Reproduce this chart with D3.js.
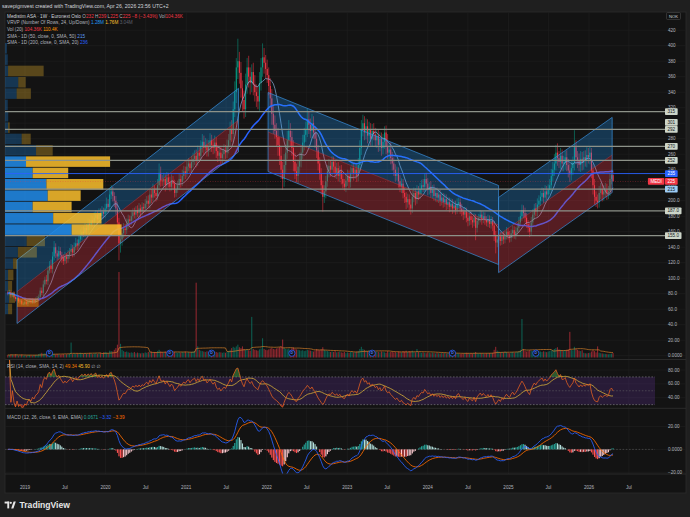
<!DOCTYPE html>
<html>
<head>
<meta charset="utf-8">
<script src="https://cdn.jsdelivr.net/npm/d3@7"></script>
<style>
  html, body { margin: 0; padding: 0; background: #1f1f1f; }
  svg { display: block; font-family: "Liberation Sans", "DejaVu Sans", Arial, sans-serif; }
  text { white-space: pre; }
</style>
</head>
<body>
<svg id="chart" width="690" height="517"></svg>
<script>
// ---- DATA: Medistim ASA, weekly candles (NOK), first week starts 2018-10-15 ----
const firstWeek = "2018-10-15";
const firstOpen = 82;
const closes = [
  80, 82, 78, 80, 76, 73, 75, 70, 71, 67,
  67, 69, 67, 70, 71, 69, 72, 70, 73, 74,
  76, 84, 81, 92, 98, 96, 110, 116, 112, 128,
  140, 132, 128, 135, 130, 126, 122, 128, 125, 130,
  134, 138, 133, 140, 145, 142, 150, 155, 160, 158,
  165, 162, 170, 168, 175, 172, 178, 182, 176, 184,
  180, 186, 183, 190, 196, 192, 208, 212, 206, 200,
  190, 172, 145, 150, 158, 164, 162, 170, 176, 174,
  180, 185, 182, 188, 184, 190, 186, 192, 190, 196,
  200, 196, 208, 204, 214, 210, 206, 220, 236, 226,
  225, 228, 220, 230, 224, 218, 226, 222, 210, 215,
  220, 228, 224, 232, 238, 235, 244, 248, 242, 250,
  254, 258, 252, 262, 258, 270, 276, 268, 272, 265,
  270, 278, 272, 268, 275, 264, 258, 262, 255, 260,
  265, 262, 270, 278, 292, 286, 318, 340, 372, 380,
  365, 345, 330, 318, 350, 372, 360, 352, 366, 350,
  340, 335, 328, 352, 372, 385, 378, 370, 362, 348,
  332, 312, 298, 290, 282, 272, 258, 240, 228, 246,
  262, 278, 290, 282, 268, 250, 238, 232, 244, 252,
  262, 275, 285, 292, 305, 298, 290, 300, 288, 280,
  265, 248, 235, 220, 205, 212, 225, 238, 245, 240,
  250, 244, 236, 242, 232, 238, 228, 222, 218, 226,
  232, 224, 236, 242, 235, 240, 232, 246, 268, 292,
  300, 288, 296, 284, 292, 280, 290, 286, 278, 284,
  272, 280, 268, 276, 288, 270, 262, 266, 255, 248,
  240, 232, 236, 225, 218, 222, 210, 205, 198, 202,
  195, 190, 205, 210, 202, 212, 208, 215, 220, 218,
  228, 222, 215, 218, 210, 214, 206, 210, 204, 208,
  200, 204, 198, 202, 195, 198, 192, 196, 190, 194,
  188, 196, 198, 190, 186, 182, 186, 178, 174, 180,
  175, 172, 178, 165, 174, 178, 182, 176, 180, 175,
  172, 176, 170, 174, 168, 156, 146, 150, 154, 148,
  154, 150, 156, 160, 155, 152, 158, 162, 156, 160,
  165, 172, 180, 188, 184, 178, 170, 165, 160, 172,
  182, 190, 186, 195, 200, 205, 210, 204, 212, 208,
  214, 220, 232, 240, 248, 262, 255, 250, 258, 248,
  249, 256, 246, 239, 234, 242, 249, 269, 256, 252,
  246, 254, 249, 256, 252, 259, 256, 262, 239, 220,
  205, 200, 198, 210, 215, 208, 212, 214, 210, 212,
  228, 233, 225
];
// wick length above / below the candle body (NOK)
const wickUp = [
  2,3,2,2,3,2,2,3,2,2, 2,2,3,2,2,3,2,2,2,3, 3,4,4,5,4,6,5,6,8,6, 8,5,4,6,5,4,5,6,4,6,
  5,6,5,6,7,5,6,8,6,7, 6,5,7,6,6,5,7,6,5,6, 6,7,5,6,8,6,8,8,6,5, 6,8,6,10,8,7,6,7,6,5,
  6,5,6,5,6,7,5,6,5,6, 6,7,6,7,8,6,7,8,12,8, 7,8,6,7,6,7,8,6,5,7, 6,7,6,8,7,6,8,7,6,8,
  8,7,8,9,7,8,10,8,9,7, 8,9,7,8,9,7,8,7,8,7, 8,7,9,8,10,12,10,14,12,29, 12,14,10,12,14,12,15,12,10,12,
  12,10,12,14,12,18,12,10,12,10, 10,12,10,12,10,12,10,12,10,14, 10,12,14,10,8,10,12,10,8,10, 8,10,9,10,14,10,8,12,9,8,
  8,7,8,7,6,8,7,8,9,7, 8,7,8,7,8,7,8,7,6,8, 8,7,8,9,7,8,7,9,10,12, 11,9,10,9,10,8,9,10,8,9,
  8,9,8,10,8,9,16,8,9,8, 8,7,8,7,8,7,6,7,6,7, 6,7,8,7,6,8,7,8,7,8, 7,8,7,6,7,6,7,6,7,6,
  6,7,6,7,6,7,6,7,6,6, 6,7,6,5,6,5,6,5,6,5, 6,5,6,5,6,5,6,5,6,5, 5,6,5,6,5,6,5,6,5,6,
  5,6,5,6,5,6,5,6,5,6, 6,7,6,7,6,7,6,5,6,7, 7,6,7,8,7,8,7,6,8,7, 7,8,9,10,12,10,12,9,10,8,
  9,8,9,8,9,10,8,22,9,8, 9,10,9,8,9,10,9,8,6,8, 8,7,8,9,8,7,8,9,8,7, 8,7,6
];
const wickDn = [
  2,2,3,2,2,3,2,2,3,2, 2,2,2,3,2,2,2,3,2,2, 2,3,3,4,3,4,5,4,5,6, 5,6,5,4,5,6,5,4,6,5,
  5,4,6,5,4,6,5,4,6,5, 5,6,5,6,5,6,5,6,7,5, 6,5,6,5,6,7,5,6,7,8, 8,10,22,12,8,6,7,5,6,7,
  5,6,5,6,5,6,7,5,6,5, 6,5,6,7,5,6,7,5,6,8, 6,7,8,6,7,6,5,7,6,5, 5,6,7,5,6,7,5,6,7,6,
  7,8,9,7,8,6,8,9,7,8, 8,7,9,8,7,9,8,7,8,9, 7,8,7,9,8,10,12,10,14,15, 14,12,15,12,10,12,14,15,12,14,
  12,14,10,12,10,12,14,12,10,12, 12,14,12,10,12,14,12,12,14,10, 10,8,10,12,10,12,10,8,10,9, 9,8,10,9,10,12,9,10,8,12,
  10,9,8,12,19,8,9,7,8,9, 7,8,7,8,7,8,7,6,5,7, 7,8,7,8,9,7,8,7,8,9, 9,10,9,10,8,9,10,8,9,10,
  9,8,10,8,9,10,8,9,8,9, 8,7,6,8,7,8,7,8,9,7, 8,8,6,7,8,6,7,6,8,7, 6,7,8,7,6,7,6,7,6,7,
  7,6,7,6,7,6,7,6,7,6, 6,5,6,7,6,7,5,6,7,6, 6,7,5,16,6,5,6,7,5,6, 5,6,5,6,7,8,14,6,5,6,
  5,6,5,6,5,6,5,6,5,6, 5,6,5,6,7,6,5,6,7,5, 6,7,6,7,6,7,6,7,6,7, 7,6,8,7,8,9,10,8,9,10,
  10,9,8,9,10,8,9,10,9,10, 8,9,10,9,8,9,8,9,10,12, 10,8,8,7,8,9,8,7,9,8, 6,7,0
];
// weekly volume (thousand shares)
const volumes = [
  60,55,70,65,50,75,60,45,55,70, 40,50,45,55,60,50,45,55,60,50, 80,95,110,90,100,85,120,95,110,90,
  85,70,80,75,65,70,80,60,75,70, 90,350,80,95,85,100,90,110,95,85, 100,90,85,110,95,80,90,100,85,95,
  110,95,120,130,115,100,160,150,140,180, 220,300,2000,320,180,150,130,140,120,110,
  120,110,130,100,115,105,95,110,100,120, 110,130,125,140,115,130,120,150,180,140,
  130,120,140,110,125,160,115,105,130,120, 110,125,115,130,120,140,110,125,115,130,
  140,150,1750,260,180,160,150,140,130,145, 130,180,150,120,140,130,115,125,120,110,
  120,110,130,150,180,220,250,230,260,300, 240,220,260,200,180,190,170,160,950,200,
  180,170,160,190,210,450,200,180,170,190, 210,230,200,190,210,220,240,260,420,230,
  200,190,210,180,220,240,200,190,180,170, 160,170,150,160,180,170,160,150,140,160,
  200,180,170,190,240,180,160,150,140,130, 140,130,150,120,130,140,120,110,130,100,
  120,110,130,140,120,130,140,150,200,250, 200,180,160,150,170,160,140,150,130,140,
  130,120,140,130,120,110,150,120,130,140, 120,130,110,140,130,120,150,140,160,130,
  150,140,160,130,120,200,130,120,110,120, 110,100,120,110,100,115,105,95,110,100,
  95,105,100,110,95,100,90,105,95,100, 90,100,95,85,90,95,100,110,105,95,
  100,95,110,130,100,95,105,100,95,90, 100,95,105,100,110,180,250,160,140,120,
  130,120,140,125,110,100,120,130,115,125, 130,150,180,900,200,160,140,150,170,160,
  150,140,130,160,150,140,130,145,135,125, 140,150,170,180,200,220,240,190,180,170,
  160,170,180,190,600,180,170,250,200,180, 160,150,170,110,100,95,105,110,140,180,
  150,120,260,110,100,95,90,85,80,75, 85,90,104
];

const dividendDates = ["2019-04-22", "2020-10-19", "2021-04-26", "2022-04-25", "2023-04-24", "2024-04-22", "2025-05-05"];

// Visible-range volume profile, 24 rows from vpHigh down to vpLow (thousand shares)
const vpHigh = 404, vpLow = 53;
const vpUp   = [60, 85, 95, 410, 360, 85, 100, 95, 515, 960, 650, 855, 1280, 1320, 855, 1490, 2060, 670, 400, 250, 95, 95, 125, 95];
const vpDown = [0, 0, 1100, 230, 440, 0, 0, 50, 280, 515, 2600, 1100, 1760, 1020, 1205, 1495, 1545, 565, 585, 125, 165, 125, 185, 125];
const vpValueArea = [10, 16];

// Regression trend channels: start/end date, midline price at start/end, half width
const channelStart = ["2018-11-26", "2022-01-07", "2024-11-17"];
const channelEnd   = ["2021-08-26", "2024-11-17", "2026-04-16"];
const channelMidA  = [82.6, 288.6, 155.7];
const channelMidB  = [304, 168.6, 259];
const channelHalf  = [41, 51, 48.5];

// consolidation box (early 2019)
const boxDates = ["2018-11-26", "2019-03-04"];
const boxPrices = [63, 74];

// Horizontal levels
const grayLevels = [315, 292, 270, 252, 215, 187, 155];
const blueLevel = 235;
const lastPrice = 225;
const tagValues = [315, 301, 292, 270, 252, 187, 155];
const tagTexts  = ["315", "301", "292", "270", "252", "187.0", "155.0"];

// Axes
const priceTicks = [420, 400, 380, 360, 340, 320, 300, 280, 260, 240, 220, 200, 180, 160, 140, 120, 100, 80, 60, 40, 20, 0];
const priceTickLabels = ["420", "400", "380", "360", "340", "320", "300", "280", "260", "240", "220", "200.0", "180.0", "160.0", "140.0", "120.0", "100.0", "80.0", "60.0", "40.0", "20.00", "0.0000"];
const rsiTicks = [80, 60, 40];
const rsiTickLabels = ["80.00", "60.00", "40.00"];
const macdTicks = [20, 0, -20];
const macdTickLabels = ["20.00", "0.0000", "\u221220.00"];
const timeTickDates = ["2019-01-01", "2019-07-01", "2020-01-01", "2020-07-01", "2021-01-01", "2021-07-01", "2022-01-01", "2022-07-01",
                       "2023-01-01", "2023-07-01", "2024-01-01", "2024-07-01", "2025-01-01", "2025-07-01", "2026-01-01", "2026-07-01"];
const timeTickLabels = ["2019", "Jul", "2020", "Jul", "2021", "Jul", "2022", "Jul", "2023", "Jul", "2024", "Jul", "2025", "Jul", "2026", "Jul"];

// ---- SETUP ----
const svg = d3.select("#chart");
const parse = d3.utcParse("%Y-%m-%d");
const frame = {x0: 5, x1: 686, y0: 12, y1: 493};
const mainPane = {y0: 12, y1: 359.5};
const rsiPane = {y0: 359.5, y1: 408.3};
const macdPane = {y0: 408.3, y1: 474};
const labelX = 668;
const upCol = "#089981", dnCol = "#f23645";

svg.append("rect").attr("width", 690).attr("height", 517).attr("fill", "#1f1f1f");
svg.append("rect").attr("x", frame.x0).attr("y", frame.y0)
  .attr("width", frame.x1 - frame.x0).attr("height", frame.y1 - frame.y0)
  .attr("fill", "#131313").attr("stroke", "#2c2c2c").attr("stroke-width", 0.8);

const defs = svg.append("defs");
function clip(id, p) {
  defs.append("clipPath").attr("id", id).append("rect")
    .attr("x", frame.x0).attr("y", p.y0).attr("width", frame.x1 - frame.x0).attr("height", p.y1 - p.y0);
}
clip("clipMain", mainPane); clip("clipRsi", rsiPane); clip("clipMacd", macdPane);

const x = d3.scaleUtc().domain([parse("2019-01-01"), parse("2026-01-01")]).range([25, 589]);
const yP = d3.scaleLinear().domain([0, 420]).range([355.7, 30.2]);
const yV = d3.scaleLinear().domain([0, 2000]).range([357.5, 272]);
const yR = d3.scaleLinear().domain([40, 80]).range([397.7, 370]);
const yM = d3.scaleLinear().domain([-20, 20]).range([472.3, 426.5]);

const t0 = parse(firstWeek);
const bars = closes.map((c, i) => {
  const o = i ? closes[i - 1] : firstOpen;
  return {date: d3.utcDay.offset(t0, 7 * i), o, c, h: Math.max(o, c) + wickUp[i], l: Math.min(o, c) - wickDn[i], v: volumes[i]};
});

// --- indicators ---
function smaArr(a, n) { return a.map((_, i) => d3.mean(a.slice(Math.max(0, i - n + 1), i + 1))); }
function emaArr(a, n) { const k = 2 / (n + 1); const out = []; a.forEach((v, i) => out.push(i ? v * k + out[i - 1] * (1 - k) : v)); return out; }
function rsiArr(a, n) {
  const out = [null]; let ag = 0, al = 0, sg = 0, sl = 0;
  for (let i = 1; i < a.length; i++) {
    const d = a[i] - a[i - 1], g = Math.max(d, 0), l = Math.max(-d, 0);
    if (i <= n) { sg += g; sl += l; ag = sg / i; al = sl / i; }
    else { ag = (ag * (n - 1) + g) / n; al = (al * (n - 1) + l) / n; }
    out.push(al === 0 ? 100 : 100 - 100 / (1 + ag / al));
  }
  return out;
}
const sma10 = smaArr(closes, 10);
const sma40 = smaArr(closes, 40);
const volMa = smaArr(volumes, 20);
const rsi = rsiArr(closes, 14);
const rsiMa = [null].concat(smaArr(rsi.slice(1), 14));
const ema12 = emaArr(closes, 12), ema26 = emaArr(closes, 26);
const macd = ema12.map((v, i) => v - ema26[i]);
const signal = emaArr(macd, 9);
const hist = macd.map((v, i) => v - signal[i]);

// --- grid ---
const grid = svg.append("g").attr("stroke", "#1e1e1e").attr("stroke-width", 0.7);
timeTickDates.forEach(d => {
  grid.append("line").attr("x1", x(parse(d))).attr("x2", x(parse(d))).attr("y1", frame.y0).attr("y2", macdPane.y1);
});
priceTicks.forEach(v => grid.append("line").attr("x1", frame.x0).attr("x2", frame.x1).attr("y1", yP(v)).attr("y2", yP(v)));
rsiTicks.forEach(v => grid.append("line").attr("x1", frame.x0).attr("x2", frame.x1).attr("y1", yR(v)).attr("y2", yR(v)));
macdTicks.forEach(v => grid.append("line").attr("x1", frame.x0).attr("x2", frame.x1).attr("y1", yM(v)).attr("y2", yM(v)));

// --- main pane ---
const main = svg.append("g").attr("clip-path", "url(#clipMain)");

// volume bars + MA
main.append("g").selectAll("rect").data(bars).join("rect")
  .attr("x", d => x(d.date) - 0.55).attr("width", 1.1)
  .attr("y", d => yV(d.v)).attr("height", d => yV(0) - yV(d.v))
  .attr("fill", d => d.c >= d.o ? upCol : dnCol).attr("opacity", 0.55);
main.append("path").datum(volMa)
  .attr("d", d3.line().x((d, i) => x(bars[i].date)).y(d => yV(d)))
  .attr("fill", "none").attr("stroke", "#d9822b").attr("stroke-width", 0.8).attr("opacity", 0.85);

// candles
const cg = main.append("g");
cg.selectAll("line").data(bars).join("line")
  .attr("x1", d => x(d.date)).attr("x2", d => x(d.date))
  .attr("y1", d => yP(d.h)).attr("y2", d => yP(d.l))
  .attr("stroke", d => d.c >= d.o ? upCol : dnCol).attr("stroke-width", 0.55);
cg.selectAll("rect").data(bars).join("rect")
  .attr("x", d => x(d.date) - 0.55).attr("width", 1.1)
  .attr("y", d => yP(Math.max(d.o, d.c))).attr("height", d => Math.max(0.6, Math.abs(yP(d.o) - yP(d.c))))
  .attr("fill", d => d.c >= d.o ? upCol : dnCol);

// moving averages
const maLine = d3.line().x((d, i) => x(bars[i].date)).y(d => yP(d));
main.append("path").datum(sma10).attr("d", maLine).attr("fill", "none")
  .attr("stroke", "#8fb8e6").attr("stroke-width", 0.8).attr("opacity", 0.85);
main.append("path").datum(sma40).attr("d", maLine).attr("fill", "none")
  .attr("stroke", "#2962ff").attr("stroke-width", 1.5);

// channels (drawn over price, translucent)
const chG = main.append("g");
channelStart.forEach((s, k) => {
  const xa = x(parse(s)), xb = x(parse(channelEnd[k]));
  const a = channelMidA[k], b = channelMidB[k], hw = channelHalf[k];
  chG.append("polygon").attr("points", [[xa, yP(a + hw)], [xb, yP(b + hw)], [xb, yP(b)], [xa, yP(a)]].join(" "))
    .attr("fill", "rgba(33,150,243,0.28)");
  chG.append("polygon").attr("points", [[xa, yP(a)], [xb, yP(b)], [xb, yP(b - hw)], [xa, yP(a - hw)]].join(" "))
    .attr("fill", "rgba(242,54,69,0.3)");
  chG.append("polygon").attr("points", [[xa, yP(a + hw)], [xb, yP(b + hw)], [xb, yP(b - hw)], [xa, yP(a - hw)]].join(" "))
    .attr("fill", "none").attr("stroke", "#3a8fdc").attr("stroke-width", 0.7);
  chG.append("line").attr("x1", xa).attr("x2", xb).attr("y1", yP(a)).attr("y2", yP(b))
    .attr("stroke", "#c8404a").attr("stroke-width", 0.6).attr("opacity", 0.7);
});
main.append("rect")
  .attr("x", x(parse(boxDates[0]))).attr("width", x(parse(boxDates[1])) - x(parse(boxDates[0])))
  .attr("y", yP(boxPrices[1])).attr("height", yP(boxPrices[0]) - yP(boxPrices[1]))
  .attr("fill", "rgba(255,152,0,0.45)");

// volume profile
const vx = d3.scaleLinear().domain([0, 3040]).range([frame.x0, 103.3]);
const vpStep = (vpHigh - vpLow) / vpUp.length;
const vpG = main.append("g");
vpUp.forEach((u, r) => {
  const top = yP(vpHigh - r * vpStep), bot = yP(vpHigh - (r + 1) * vpStep);
  const inVA = r >= vpValueArea[0] && r <= vpValueArea[1];
  vpG.append("rect").attr("x", vx(0)).attr("y", top + 0.4).attr("width", vx(u) - vx(0)).attr("height", bot - top - 0.8)
    .attr("fill", inVA ? "rgba(33,140,235,0.85)" : "rgba(30,136,229,0.3)");
  vpG.append("rect").attr("x", vx(u)).attr("y", top + 0.4).attr("width", vx(u + vpDown[r]) - vx(u)).attr("height", bot - top - 0.8)
    .attr("fill", inVA ? "rgba(251,192,45,0.85)" : "rgba(251,192,45,0.3)");
});

// horizontal levels
const lvG = svg.append("g");
grayLevels.forEach(v => {
  lvG.append("line").attr("x1", frame.x0).attr("x2", 665).attr("y1", yP(v)).attr("y2", yP(v))
    .attr("stroke", "#8d9289").attr("stroke-width", 1.3);
});
lvG.append("line").attr("x1", frame.x0).attr("x2", 665).attr("y1", yP(blueLevel)).attr("y2", yP(blueLevel))
  .attr("stroke", "#2962ff").attr("stroke-width", 0.9);
lvG.append("line").attr("x1", frame.x0).attr("x2", 665).attr("y1", yP(lastPrice)).attr("y2", yP(lastPrice))
  .attr("stroke", dnCol).attr("stroke-width", 0.6).attr("stroke-dasharray", "1,1.5").attr("opacity", 0.6);

// dividend markers
const divG = svg.append("g");
dividendDates.forEach(d => {
  const cx = x(parse(d));
  divG.append("circle").attr("cx", cx).attr("cy", 353.2).attr("r", 3.1)
    .attr("fill", "#131313").attr("stroke", "#2962ff").attr("stroke-width", 0.8);
  divG.append("text").attr("x", cx).attr("y", 353.4).attr("text-anchor", "middle").attr("dominant-baseline", "central")
    .attr("font-size", 3.6).attr("font-weight", "bold").attr("fill", "#4d7dff").text("D");
});

// --- RSI pane ---
const rsiG = svg.append("g").attr("clip-path", "url(#clipRsi)");
rsiG.append("rect").attr("x", frame.x0).attr("width", 650).attr("y", yR(70)).attr("height", yR(30) - yR(70))
  .attr("fill", "rgba(126,60,200,0.2)");
[70, 30].forEach(v => rsiG.append("line").attr("x1", frame.x0).attr("x2", 655).attr("y1", yR(v)).attr("y2", yR(v))
  .attr("stroke", "#8a8a8a").attr("stroke-width", 0.6).attr("stroke-dasharray", "1.6,1.6"));
rsiG.append("line").attr("x1", frame.x0).attr("x2", 655).attr("y1", yR(50)).attr("y2", yR(50))
  .attr("stroke", "#6a6a6a").attr("stroke-width", 0.5).attr("stroke-dasharray", "1.6,1.6");
const rsiPts = rsi.map((v, i) => ({d: bars[i].date, v})).filter(p => p.v != null);
rsiG.append("path").datum(rsiPts)
  .attr("d", d3.area().x(p => x(p.d)).y0(yR(70)).y1(p => yR(Math.max(p.v, 70))))
  .attr("fill", "rgba(76,175,80,0.45)");
rsiG.append("path").datum(rsiPts)
  .attr("d", d3.area().x(p => x(p.d)).y0(yR(30)).y1(p => yR(Math.min(p.v, 30))))
  .attr("fill", "rgba(242,54,69,0.4)");
rsiG.append("path").datum(rsiMa.map((v, i) => ({d: bars[i].date, v})).filter(p => p.v != null))
  .attr("d", d3.line().x(p => x(p.d)).y(p => yR(p.v)))
  .attr("fill", "none").attr("stroke", "#d9b23a").attr("stroke-width", 0.8);
rsiG.append("path").datum(rsiPts)
  .attr("d", d3.line().x(p => x(p.d)).y(p => yR(p.v)))
  .attr("fill", "none").attr("stroke", "#ee6420").attr("stroke-width", 0.75);

// --- MACD pane ---
const macdG = svg.append("g").attr("clip-path", "url(#clipMacd)");
macdG.append("line").attr("x1", frame.x0).attr("x2", 655).attr("y1", yM(0)).attr("y2", yM(0))
  .attr("stroke", "#6a6a6a").attr("stroke-width", 0.5).attr("stroke-dasharray", "1.6,1.6");
macdG.selectAll("rect").data(hist).join("rect")
  .attr("x", (d, i) => x(bars[i].date) - 0.55).attr("width", 1.1)
  .attr("y", d => yM(Math.max(d, 0))).attr("height", d => Math.abs(yM(d) - yM(0)))
  .attr("fill", (d, i) => {
    const prev = i ? hist[i - 1] : d;
    if (d >= 0) return d >= prev ? "#26a69a" : "#b2dfdb";
    return d < prev ? "#ff5252" : "#ffcdd2";
  });
const mLine = d3.line().x((d, i) => x(bars[i].date)).y(d => yM(d));
macdG.append("path").datum(signal).attr("d", mLine).attr("fill", "none").attr("stroke", "#ff6d00").attr("stroke-width", 0.85);
macdG.append("path").datum(macd).attr("d", mLine).attr("fill", "none").attr("stroke", "#2962ff").attr("stroke-width", 0.85);

// pane separators
[rsiPane.y0, macdPane.y0, macdPane.y1].forEach(y => svg.append("line")
  .attr("x1", frame.x0).attr("x2", frame.x1).attr("y1", y).attr("y2", y).attr("stroke", "#2c2c2c").attr("stroke-width", 0.9));

// --- axis labels ---
const axG = svg.append("g").attr("font-size", 4.6).attr("fill", "#b2b5be").attr("dominant-baseline", "central");
priceTicks.forEach((v, i) => axG.append("text").attr("x", labelX).attr("y", yP(v)).text(priceTickLabels[i]));
rsiTicks.forEach((v, i) => axG.append("text").attr("x", labelX).attr("y", yR(v)).text(rsiTickLabels[i]));
macdTicks.forEach((v, i) => axG.append("text").attr("x", labelX).attr("y", yM(v)).text(macdTickLabels[i]));
timeTickDates.forEach((d, i) => axG.append("text").attr("x", x(parse(d))).attr("y", 487.5)
  .attr("text-anchor", "middle").text(timeTickLabels[i]));

// price tags on the scale
const tagG = svg.append("g");
function tag(v, txt, fill, color, xLeft, alignRight) {
  const g = tagG.append("g");
  const t = g.append("text").attr("y", yP(v)).attr("dominant-baseline", "central")
    .attr("font-size", 4.6).attr("fill", color).text(txt);
  const w = t.node().getComputedTextLength() + 5;
  const x0 = alignRight ? xLeft - w : xLeft;
  t.attr("x", x0 + 2.5);
  g.insert("rect", "text").attr("x", x0).attr("y", yP(v) - 3.4).attr("width", w).attr("height", 6.8)
    .attr("rx", 0.8).attr("fill", fill);
}
tagValues.forEach((v, i) => tag(v, tagTexts[i], "#cdd5c9", "#131722", 665, false));
tag(blueLevel, String(blueLevel), "#2962ff", "#ffffff", 665, false);
tag(215, "215", "#9ccbf4", "#131722", 665, false);
tag(lastPrice, String(lastPrice), dnCol, "#ffffff", 665, false);
tag(lastPrice, "MEDI", dnCol, "#ffffff", 664.4, true);

// currency box
svg.append("rect").attr("x", 666.5).attr("y", 12.5).attr("width", 14).attr("height", 7).attr("rx", 1)
  .attr("fill", "#131313").attr("stroke", "#4a4a4a").attr("stroke-width", 0.6);
svg.append("text").attr("x", 673.5).attr("y", 16.1).attr("text-anchor", "middle").attr("dominant-baseline", "central")
  .attr("font-size", 4.2).attr("fill", "#d1d4dc").text("NOK");

// --- legends ---
const gray = "#b2b5be";
function legend(y, parts) {
  const t = svg.append("text").attr("x", 7).attr("y", y).attr("font-size", 4.7).attr("dominant-baseline", "central");
  parts.forEach(([s, c]) => t.append("tspan").attr("fill", c).text(s));
}
svg.append("text").attr("x", 2).attr("y", 6.3).attr("font-size", 5.2).attr("fill", "#d1d4dc")
  .attr("dominant-baseline", "central").text("savepigmvest created with TradingView.com, Apr 26, 2026 23:56 UTC+2");
legend(15.7, [["Medistim ASA \u00b7 1W \u00b7 Euronext Oslo ", "#d1d4dc"], ["O", gray], ["232", dnCol], [" H", gray], ["239", dnCol],
  [" L", gray], ["225", dnCol], [" C", gray], ["225", dnCol], [" \u22128 (\u22123.43%)", dnCol], [" Vol", gray], ["104.36K", dnCol]]);
legend(22.3, [["VRVP (Number Of Rows, 24, Up/Down) ", gray], ["1.28M", "#2196f3"], [" 1.76M", "#fbc02d"], [" 3.04M", "#5d606b"]]);
legend(29, [["Vol (20) ", gray], ["104.36K", dnCol], [" 110.4K", "#ff9800"]]);
legend(35.5, [["SMA - 1D (50, close, 0, SMA, 50) ", gray], ["215", "#5b9cf6"]]);
legend(42.2, [["SMA - 1D (200, close, 0, SMA, 20) ", gray], ["236", "#2962ff"]]);
legend(366, [["RSI (14, close, SMA, 14, 2) ", gray], ["49.34", "#f57c00"], [" 45.90", "#fbc02d"], [" \u2205 \u2205", gray]]);
legend(416.7, [["MACD (12, 26, close, 9, EMA, EMA) ", gray], ["0.0671", "#26a69a"], [" \u22123.32", "#2962ff"], [" \u22123.39", "#ff6d00"]]);

// --- TradingView logo ---
const logo = svg.append("g").attr("fill", "#e6e6e6");
logo.append("rect").attr("x", 4.6).attr("y", 501.6).attr("width", 4.6).attr("height", 1.9);
logo.append("rect").attr("x", 7.3).attr("y", 501.6).attr("width", 1.9).attr("height", 6.8);
logo.append("circle").attr("cx", 10.8).attr("cy", 502.8).attr("r", 1.1);
logo.append("polygon").attr("points", "11.2,508.4 13.6,501.6 15.8,501.6 13.4,508.4");
svg.append("text").attr("x", 19.5).attr("y", 505.2).attr("dominant-baseline", "central")
  .attr("font-size", 8.6).attr("font-weight", 600).attr("fill", "#e6e6e6").text("TradingView");
</script>
</body>
</html>
